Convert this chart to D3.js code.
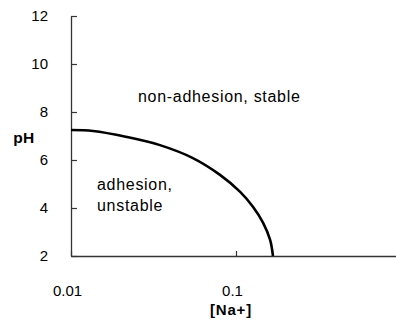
<!DOCTYPE html>
<html>
<head>
<meta charset="utf-8">
<script src="https://cdn.jsdelivr.net/npm/d3@7"></script>
<style>
  body { margin: 0; background: #fff; }
  svg { display: block; font-family: Arial, "Liberation Sans", sans-serif; }
</style>
</head>
<body>
<svg id="chart" width="396" height="320"></svg>
<script>
// boundary between the two regions
var naConc = [0.01, 0.0136, 0.0218, 0.0346, 0.0548, 0.080, 0.106, 0.127, 0.146, 0.161, 0.1675];
var phVals = [7.25, 7.21, 6.96, 6.62, 6.08, 5.38, 4.67, 4.04, 3.38, 2.67, 2.0];

var xTicks = [0.01, 0.1];
var xTickLabels = ["0.01", "0.1"];
var yTicks = [2, 4, 6, 8, 10, 12];

var svg = d3.select("#chart");

var x = d3.scaleLog().domain([0.01, 1]).range([71, 401]);
var y = d3.scaleLinear().domain([2, 12]).range([256, 16]);

// y axis, ticks point inward
var yAxis = d3.axisLeft(y)
    .tickValues(yTicks)
    .tickSizeInner(-6)
    .tickSizeOuter(0)
    .tickPadding(23)
    .tickFormat(d3.format("d"));

var gy = svg.append("g")
    .attr("transform", "translate(71,0)")
    .call(yAxis);

var xAxis = d3.axisBottom(x)
    .tickValues(xTicks)
    .tickSizeInner(-5)
    .tickSizeOuter(0)
    .tickPadding(29)
    .tickFormat(function (d, i) { return xTickLabels[i]; });

var gx = svg.append("g")
    .attr("transform", "translate(0,256)")
    .call(xAxis);

gx.selectAll(".tick text").attr("dx", -4);

[gx, gy].forEach(function (g) {
    g.select(".domain").attr("stroke", "#333").attr("stroke-width", 1.3);
    g.selectAll(".tick line").attr("stroke", "#333").attr("stroke-width", 1.2);
    g.selectAll(".tick text")
        .attr("fill", "#000")
        .style("font-size", "15px")
        .style("font-family", "Arial, 'Liberation Sans', sans-serif");
});

// boundary curve
var pts = naConc.map(function (d, i) { return [d, phVals[i]]; });
var line = d3.line()
    .x(function (d) { return x(d[0]); })
    .y(function (d) { return y(d[1]); })
    .curve(d3.curveCatmullRom.alpha(0.5));

svg.append("path")
    .datum(pts)
    .attr("fill", "none")
    .attr("stroke", "#000")
    .attr("stroke-width", 2.6)
    .attr("d", line);

// region labels
svg.append("text")
    .attr("x", 138).attr("y", 102)
    .style("font-size", "16px")
    .style("letter-spacing", "0.7px")
    .text("non-adhesion, stable");

svg.append("text")
    .attr("x", 97).attr("y", 190)
    .style("font-size", "16px")
    .style("letter-spacing", "0.7px")
    .text("adhesion,");

svg.append("text")
    .attr("x", 97).attr("y", 211)
    .style("font-size", "16px")
    .style("letter-spacing", "0.7px")
    .text("unstable");

// axis titles
svg.append("text")
    .attr("x", 24).attr("y", 143)
    .attr("text-anchor", "middle")
    .style("font-size", "15.5px")
    .style("font-weight", "bold")
    .style("letter-spacing", "0.5px")
    .text("pH");

svg.append("text")
    .attr("x", 231).attr("y", 315)
    .attr("text-anchor", "middle")
    .style("font-size", "15px")
    .style("font-weight", "bold")
    .style("letter-spacing", "0.8px")
    .text("[Na+]");
</script>
</body>
</html>
